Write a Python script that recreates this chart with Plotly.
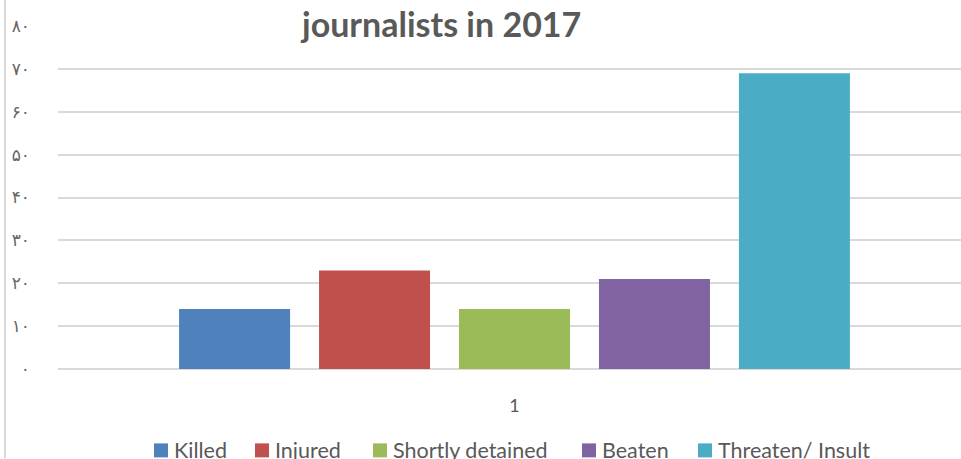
import plotly.graph_objects as go

categories = ["1"]
series_names = ["Killed", "Injured", "Shortly detained", "Beaten", "Threaten/ Insult"]
series_values = [14, 23, 14, 21, 69]
series_colors = ["#4F81BD", "#C0504D", "#9BBB59", "#8064A2", "#4BACC6"]
tick_values = [0, 10, 20, 30, 40, 50, 60, 70, 80]
tick_labels = ["٠", "١٠", "٢٠", "٣٠", "۴٠", "۵٠", "۶٠", "٧٠", "٨٠"]
title_text = "journalists in 2017"

# layout constants (pixels)
W, H = 961, 459
left, right, top, bottom = 58, 0, 26, 89.5
plot_w = W - left - right
plot_h = H - top - bottom
legend_square_x = [154, 255, 373, 582, 698]
legend_square_size = 14
legend_y_center = 451


def px_x(px):
    return (px - left) / plot_w


def px_y(py):
    return (H - bottom - py) / plot_h


fig = go.Figure()
for name, val, col in zip(series_names, series_values, series_colors):
    fig.add_trace(go.Bar(name=name, x=categories, y=[val],
                         marker=dict(color=col, line=dict(width=0)), showlegend=False))

c = (514.5 - left) / plot_w

fig.update_layout(
    width=W, height=H,
    margin=dict(l=left, r=right, t=top, b=bottom, pad=0, autoexpand=False),
    paper_bgcolor="white", plot_bgcolor="white",
    barmode="group", bargap=0.225, bargroupgap=0.207,
    font=dict(family="Lato, Liberation Sans, sans-serif", color="#595959"),
    showlegend=False,
    xaxis=dict(type="category", range=[-c, 1 - c], showgrid=False, showline=False, ticks="",
               automargin=False, tickfont=dict(size=18, color="#595959"), ticklabelstandoff=24,
               fixedrange=True),
    yaxis=dict(range=[0, 80], tickvals=tick_values, ticktext=tick_labels, showgrid=True,
               automargin=False,
               gridcolor="#D9D9D9", gridwidth=1.5, zeroline=True, zerolinecolor="#D9D9D9", zerolinewidth=1.5,
               showline=False, ticks="", tickfont=dict(size=17, color="#666666",
               family="DejaVu Sans, sans-serif"), ticklabelstandoff=27),
)

fig.add_annotation(text="<b>" + title_text + "</b>", xref="paper", yref="paper",
                   x=px_x(440), y=px_y(23),
                   xanchor="center", yanchor="middle", showarrow=False,
                   font=dict(size=34, color="#595959", family="Lato, Liberation Sans, sans-serif"))

fig.add_shape(type="line", xref="paper", yref="paper",
              x0=px_x(5), x1=px_x(5), y0=px_y(H), y1=px_y(0),
              line=dict(color="#D9D9D9", width=2))

# legend
for name, col, sx in zip(series_names, series_colors, legend_square_x):
    fig.add_shape(type="rect", xref="paper", yref="paper",
                  x0=px_x(sx), x1=px_x(sx + legend_square_size),
                  y0=px_y(legend_y_center + legend_square_size / 2),
                  y1=px_y(legend_y_center - legend_square_size / 2),
                  fillcolor=col, line=dict(width=0))
    fig.add_annotation(text=name, xref="paper", yref="paper",
                       x=px_x(sx + legend_square_size + 4), y=px_y(legend_y_center),
                       xanchor="left", yanchor="middle", showarrow=False,
                       font=dict(size=21.5, color="#595959", family="Lato, Liberation Sans, sans-serif"))

fig.write_html("out.html", config={"displayModeBar": False},
               post_script="document.body.style.margin='0';document.body.style.overflow='hidden';")
